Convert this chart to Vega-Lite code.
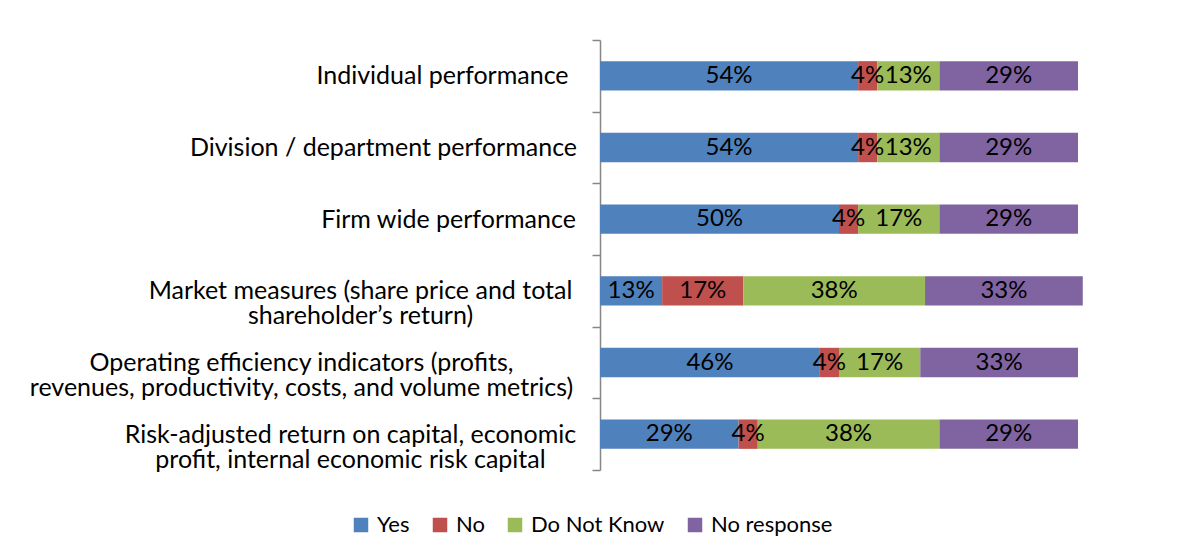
{
  "$schema": "https://vega.github.io/schema/vega-lite/v6.json",
  "autosize": "none",
  "width": 478,
  "height": 430,
  "padding": {"left": 600, "top": 40, "right": 114, "bottom": 88},
  "background": "white",
  "config": {"view": {"stroke": null}, "font": "Lato"},
  "data": {"values": [
    {"cat": "Individual performance", "resp": "Yes", "k": 1, "value": 54},
    {"cat": "Individual performance", "resp": "No", "k": 2, "value": 4},
    {"cat": "Individual performance", "resp": "Do Not Know", "k": 3, "value": 13},
    {"cat": "Individual performance", "resp": "No response", "k": 4, "value": 29},
    {"cat": "Division / department performance", "resp": "Yes", "k": 1, "value": 54},
    {"cat": "Division / department performance", "resp": "No", "k": 2, "value": 4},
    {"cat": "Division / department performance", "resp": "Do Not Know", "k": 3, "value": 13},
    {"cat": "Division / department performance", "resp": "No response", "k": 4, "value": 29},
    {"cat": "Firm wide performance", "resp": "Yes", "k": 1, "value": 50},
    {"cat": "Firm wide performance", "resp": "No", "k": 2, "value": 4},
    {"cat": "Firm wide performance", "resp": "Do Not Know", "k": 3, "value": 17},
    {"cat": "Firm wide performance", "resp": "No response", "k": 4, "value": 29},
    {"cat": "Market measures (share price and total|shareholder’s return)", "resp": "Yes", "k": 1, "value": 13},
    {"cat": "Market measures (share price and total|shareholder’s return)", "resp": "No", "k": 2, "value": 17},
    {"cat": "Market measures (share price and total|shareholder’s return)", "resp": "Do Not Know", "k": 3, "value": 38},
    {"cat": "Market measures (share price and total|shareholder’s return)", "resp": "No response", "k": 4, "value": 33},
    {"cat": "Operating efficiency indicators (profits,|revenues, productivity, costs, and volume metrics)", "resp": "Yes", "k": 1, "value": 46},
    {"cat": "Operating efficiency indicators (profits,|revenues, productivity, costs, and volume metrics)", "resp": "No", "k": 2, "value": 4},
    {"cat": "Operating efficiency indicators (profits,|revenues, productivity, costs, and volume metrics)", "resp": "Do Not Know", "k": 3, "value": 17},
    {"cat": "Operating efficiency indicators (profits,|revenues, productivity, costs, and volume metrics)", "resp": "No response", "k": 4, "value": 33},
    {"cat": "Risk-adjusted return on capital, economic|profit, internal economic risk capital", "resp": "Yes", "k": 1, "value": 29},
    {"cat": "Risk-adjusted return on capital, economic|profit, internal economic risk capital", "resp": "No", "k": 2, "value": 4},
    {"cat": "Risk-adjusted return on capital, economic|profit, internal economic risk capital", "resp": "Do Not Know", "k": 3, "value": 38},
    {"cat": "Risk-adjusted return on capital, economic|profit, internal economic risk capital", "resp": "No response", "k": 4, "value": 29}
  ]},
  "transform": [
    {"stack": "value", "groupby": ["cat"], "sort": [{"field": "k", "order": "ascending"}], "as": ["v0", "v1"]},
    {"calculate": "(datum.v0 + datum.v1) / 2", "as": "mid"},
    {"calculate": "datum.value + '%'", "as": "lab"}
  ],
  "encoding": {
    "y": {
      "field": "cat",
      "type": "nominal",
      "sort": [
        "Individual performance",
        "Division / department performance",
        "Firm wide performance",
        "Market measures (share price and total|shareholder’s return)",
        "Operating efficiency indicators (profits,|revenues, productivity, costs, and volume metrics)",
        "Risk-adjusted return on capital, economic|profit, internal economic risk capital"
      ],
      "scale": {"paddingInner": 0, "paddingOuter": 0},
      "axis": {
        "title": null,
        "domain": true,
        "domainColor": "#868686",
        "domainWidth": 1.5,
        "ticks": true,
        "tickColor": "#868686",
        "tickWidth": 1.5,
        "tickSize": 8,
        "tickBand": "extent",
        "labelFont": "Lato",
        "labelFontSize": 25,
        "labelColor": "black",
        "labelAlign": "center",
        "labelPadding": {
          "condition": [
            {"test": "isValid(datum) && isValid(datum.value) && indexof(datum.value, 'Individual') == 0", "value": 150},
            {"test": "isValid(datum) && isValid(datum.value) && indexof(datum.value, 'Division') == 0", "value": 209},
            {"test": "isValid(datum) && isValid(datum.value) && indexof(datum.value, 'Firm') == 0", "value": 144},
            {"test": "isValid(datum) && isValid(datum.value) && indexof(datum.value, 'Market') == 0", "value": 232},
            {"test": "isValid(datum) && isValid(datum.value) && indexof(datum.value, 'Operating') == 0", "value": 291}
          ],
          "value": 242
        },
        "labelLimit": 0,
        "labelLineHeight": 25,
        "labelExpr": "split(datum.label, '|')"
      }
    }
  },
  "layer": [
    {
      "mark": {"type": "bar", "height": {"band": 0.41}},
      "encoding": {
        "x": {"field": "v0", "type": "quantitative", "scale": {"domain": [0, 100], "nice": false, "zero": true}, "axis": null},
        "x2": {"field": "v1"},
        "color": {
          "field": "resp",
          "type": "nominal",
          "scale": {"domain": ["Yes", "No", "Do Not Know", "No response"], "range": ["#4F81BD", "#C0504D", "#9BBB59", "#8064A2"]},
          "legend": {
            "title": null,
            "orient": "none",
            "legendX": -250,
            "legendY": 474,
            "direction": "horizontal",
            "symbolType": "square",
            "symbolSize": 210,
            "symbolStrokeWidth": 0,
            "labelFont": "Lato",
            "labelFontSize": 22,
            "labelColor": "black",
            "labelOffset": 5,
            "columnPadding": 19,
            "padding": 0
          }
        }
      }
    },
    {
      "mark": {"type": "text", "fontSize": 24, "color": "black", "font": "Lato"},
      "encoding": {
        "x": {"field": "mid", "type": "quantitative"},
        "text": {"field": "lab"}
      }
    }
  ]
}
